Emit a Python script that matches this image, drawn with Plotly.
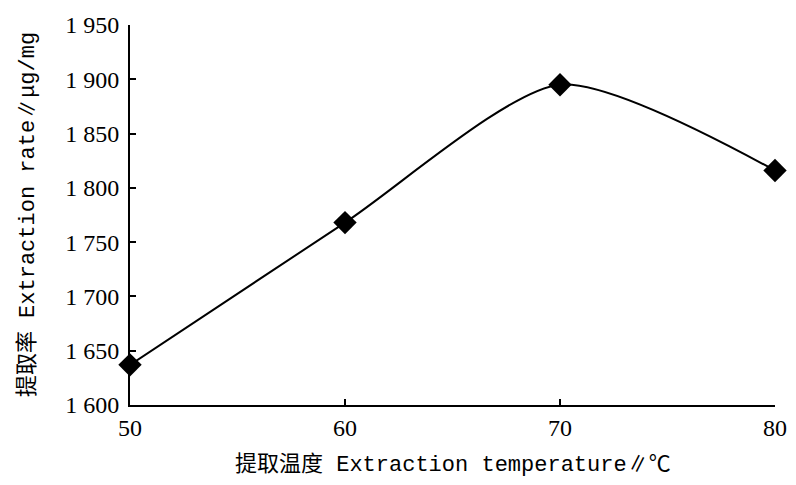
import plotly.graph_objects as go

temperature = [50, 60, 70, 80]
extraction_rate = [1637, 1768, 1895, 1816]

x_ticks = [50, 60, 70, 80]
y_ticks = [1600, 1650, 1700, 1750, 1800, 1850, 1900, 1950]
y_tick_labels = ["1 600", "1 650", "1 700", "1 750", "1 800", "1 850", "1 900", "1 950"]

x_title = "提取温度 Extraction temperature∥℃"
y_title = "提取率 Extraction rate∥μg/mg"

tick_font = dict(family="Liberation Serif, Times New Roman, serif", size=24, color="black")
title_font = dict(family="Liberation Mono, Noto Sans CJK SC, monospace", size=22, color="black")

fig = go.Figure()
fig.add_trace(go.Scatter(
    x=temperature, y=extraction_rate,
    mode="lines+markers",
    line=dict(color="black", width=2, shape="spline", smoothing=0.7),
    marker=dict(symbol="diamond", size=18, color="black"),
    showlegend=False,
    cliponaxis=False,
))

# the page body adds an 8px offset, so the figure is sized to 788x477
fig.update_layout(
    width=788, height=477,
    margin=dict(l=122, r=21, t=17, b=80),
    paper_bgcolor="white", plot_bgcolor="white",
    xaxis=dict(
        range=[50, 80], tickvals=x_ticks, ticktext=[str(v) for v in x_ticks],
        showgrid=False, zeroline=False, showline=True, linecolor="black", linewidth=2,
        ticks="inside", ticklen=6, tickwidth=2, tickcolor="black",
        tickfont=tick_font, automargin=False,
    ),
    yaxis=dict(
        range=[1600, 1950], tickvals=y_ticks, ticktext=y_tick_labels,
        showgrid=False, zeroline=False, showline=True, linecolor="black", linewidth=2,
        ticks="inside", ticklen=6, tickwidth=2, tickcolor="black",
        tickfont=tick_font, ticklabelstandoff=4, automargin=False,
    ),
    annotations=[
        dict(text=x_title, xref="paper", yref="paper", x=0.5, y=-0.158,
             xanchor="center", yanchor="middle", showarrow=False, font=title_font),
        dict(text=y_title, xref="paper", yref="paper", x=-0.158, y=0.5,
             xanchor="center", yanchor="middle", textangle=-90, showarrow=False, font=title_font),
    ],
)

fig.write_html("out.html")
